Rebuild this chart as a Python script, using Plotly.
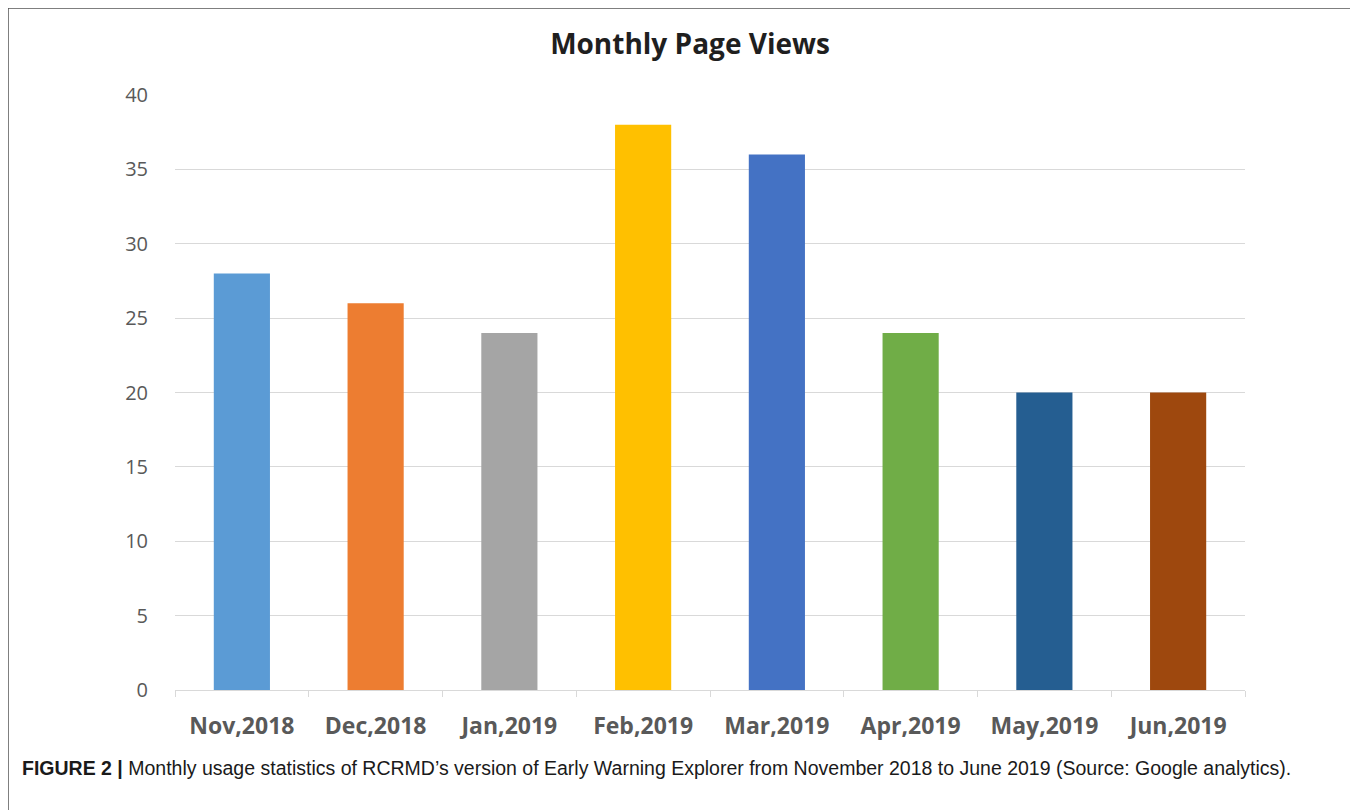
import plotly.graph_objects as go

months = ["Nov,2018", "Dec,2018", "Jan,2019", "Feb,2019", "Mar,2019", "Apr,2019", "May,2019", "Jun,2019"]
page_views = [28, 26, 24, 38, 36, 24, 20, 20]
bar_colors = ["#5B9BD5", "#ED7D31", "#A5A5A5", "#FFC000", "#4472C4", "#70AD47", "#255E91", "#9E480E"]
y_ticks = [0, 5, 10, 15, 20, 25, 30, 35, 40]

OFF = 8  # page body margin
W, H = 1358 - OFF, 810 - OFF
L, R, T, B = 175 - OFF, 1245 - OFF, 95 - OFF, 690 - OFF

def px(x):
    return (x - OFF - L) / (R - L)

def py(y):
    return (B - (y - OFF)) / (B - T)

fig = go.Figure(
    go.Bar(
        x=months,
        y=page_views,
        marker=dict(color=bar_colors, line=dict(width=0)),
        width=0.42,
        hoverinfo="x+y",
    )
)

fig.update_layout(
    width=W,
    height=H,
    margin=dict(l=L, r=W - R, t=T, b=H - B, autoexpand=False),
    paper_bgcolor="white",
    plot_bgcolor="white",
    showlegend=False,
    title=dict(
        text="<b>Monthly Page Views</b>",
        x=px(690), xref="paper", xanchor="center",
        y=1 - (44 - OFF) / H, yref="container", yanchor="middle",
        font=dict(family="Open Sans, Lato, sans-serif", size=28, color="#1f1f1f"),
    ),
    xaxis=dict(
        showgrid=False,
        showline=True, linecolor="#d9d9d9", linewidth=1,
        ticks="outside", ticklen=6, tickcolor="#d9d9d9",
        tickson="boundaries",
        tickfont=dict(family="Open Sans, Lato, sans-serif", size=23, color="#595959", weight="bold"),
        ticklabelstandoff=15,
    ),
    yaxis=dict(
        range=[0, 40],
        tickvals=y_ticks,
        showgrid=True, gridcolor="#d9d9d9", gridwidth=1,
        zeroline=False, showline=False,
        tickfont=dict(family="Open Sans, Lato, sans-serif", size=20, color="#595959"),
        ticklabelstandoff=26,
    ),
    shapes=[
        dict(type="rect", xref="paper", yref="paper",
             x0=px(8), x1=px(1355), y0=py(840), y1=py(8),
             line=dict(color="#555555", width=1.5), fillcolor="rgba(0,0,0,0)", layer="below"),
    ],
    annotations=[
        dict(
            text="<b>FIGURE 2 |</b> Monthly usage statistics of RCRMD’s version of Early Warning Explorer from November 2018 to June 2019 (Source: Google analytics).",
            xref="paper", yref="paper",
            x=px(20), y=py(768), xanchor="left", yanchor="middle",
            showarrow=False,
            font=dict(family="Liberation Sans, Arial, sans-serif", size=19.5, color="#1a1a1a"),
        )
    ],
)

fig.write_html("out.html")
